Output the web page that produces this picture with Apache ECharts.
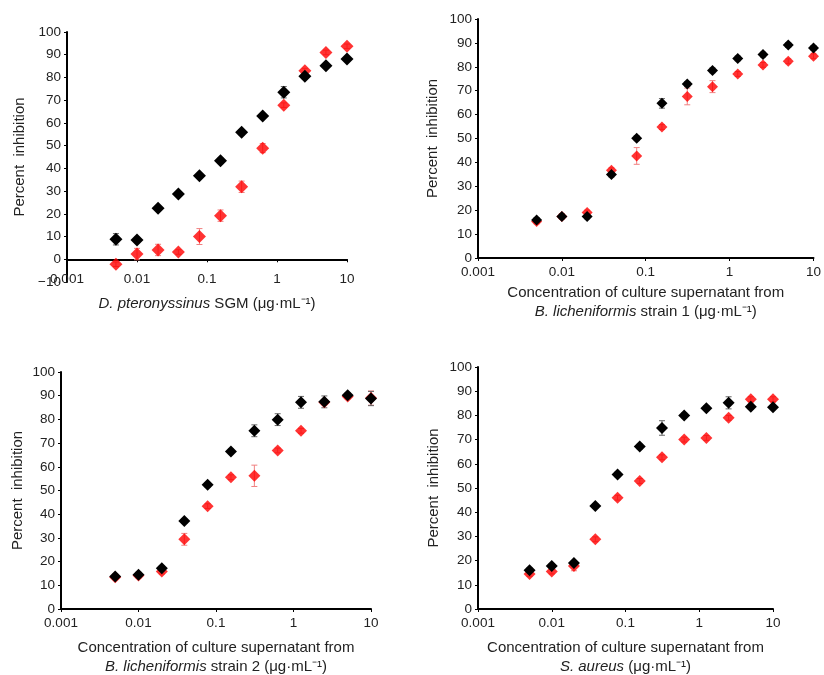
<!DOCTYPE html>
<html>
<head>
<meta charset="utf-8">
<script src="https://cdn.jsdelivr.net/npm/echarts@6/dist/echarts.min.js"></script>
<style>
  html, body { margin: 0; padding: 0; background: #fff; }
  #chart { width: 824px; height: 675px; }
</style>
</head>
<body>
<div id="chart"></div>
<script>
// concentrations (µg/mL), same for every panel
const conc = [0.005, 0.01, 0.02, 0.039, 0.078, 0.156, 0.3125, 0.625, 1.25, 2.5, 5, 10]

// panel A - D. pteronyssinus SGM
const aBlack = [8.8, 8.5, 22.4, 28.7, 36.7, 43.3, 55.9, 63.0, 73.5, 80.5, 85.2, 88.1]
const aBlackErr = [2.5, 1.2, 1, 1, 1, 1.2, 1.2, 1, 2.5, 1.2, 1, 1]
const aRed = [-2.2, 2.3, 4.1, 3.2, 10.0, 19.2, 31.9, 48.9, 67.8, 83.0, 91.0, 93.7]
const aRedErr = [1, 2.5, 2.5, 1, 3.5, 2.5, 2.5, 2, 1, 1, 1, 1]

// panel B - B. licheniformis strain 1
const bBlack = [15.9, 17.4, 17.4, 34.9, 50.1, 64.7, 72.8, 78.5, 83.5, 85.1, 89.1, 87.9]
const bBlackErr = [1, 1, 1, 1, 1, 2, 1, 1, 1, 1, 1, 1]
const bRed = [15.3, 17.4, 19.0, 36.7, 42.7, 54.8, 67.6, 71.7, 77.0, 80.8, 82.3, 84.4]
const bRedErr = [1, 1, 1, 1, 3.5, 1, 3.5, 2.5, 1, 1, 1, 1]

// panel C - B. licheniformis strain 2
const cBlack = [13.7, 14.5, 17.2, 37.1, 52.4, 66.5, 75.2, 79.9, 87.2, 87.4, 90.2, 88.8]
const cBlackErr = [1, 1, 1, 1, 1, 1, 2.5, 2.5, 2.5, 2.5, 1, 3]
const cRed = [13.4, 14.1, 15.8, 29.4, 43.4, 55.6, 56.2, 66.9, 75.2, 87.2, 89.7, 89.0]
const cRedErr = [1, 1, 1, 2.5, 1, 1, 4.5, 1, 1, 1, 1, 3]

// panel D - S. aureus
const dBlack = [16.0, 17.8, 19.0, 42.6, 55.6, 67.1, 74.8, 80.0, 83.0, 85.2, 83.6, 83.4]
const dBlackErr = [1, 1, 1, 1, 1, 1, 3, 1, 1, 2.5, 1, 1]
const dRed = [14.5, 15.5, 17.8, 28.8, 46.0, 52.9, 62.7, 70.0, 70.7, 79.0, 86.7, 86.7]
const dRedErr = [1, 1, 2, 1, 1, 1, 1, 1, 1, 1, 1, 1]

const xTicks = ['0.001', '0.01', '0.1', '1', '10']

const FONT = '"Liberation Sans", Arial, sans-serif'
const TXT = '#222'

// panel 1: x axis sits at y = 0 but labels are placed from the grid bottom,
// so its label margin / name gap are pulled up by the -10..0 strip (23px)
const panels = [
  { grid: { left: 67, top: 32, width: 280, height: 250 }, yMin: -10, black: aBlack, blackErr: aBlackErr, red: aRed, redErr: aRedErr,
    xName: '{i|D. pteronyssinus}{t| SGM (μg·mL⁻¹)}', xGap: 12, labelMargin: -10, yGap: 40, size: 13 },
  { grid: { left: 478, top: 19, width: 339, height: 239 }, yMin: 0, black: bBlack, blackErr: bBlackErr, red: bRed, redErr: bRedErr,
    xName: '{t|Concentration of culture supernatant from}\n{i|B. licheniformis}{t| strain 1 (μg·mL⁻¹)}', xGap: 25, labelMargin: 7, yGap: 38, size: 11 },
  { grid: { left: 61, top: 372, width: 310, height: 239 }, yMin: 0, black: cBlack, blackErr: cBlackErr, red: cRed, redErr: cRedErr,
    xName: '{t|Concentration of culture supernatant from}\n{i|B. licheniformis}{t| strain 2 (μg·mL⁻¹)}', xGap: 29, labelMargin: 7, yGap: 36, size: 12 },
  { grid: { left: 478, top: 367, width: 295, height: 243 }, yMin: 0, black: dBlack, blackErr: dBlackErr, red: dRed, redErr: dRedErr,
    xName: '{t|Concentration of culture supernatant from}\n{i|S. aureus}{t| (μg·mL⁻¹)}', xGap: 29, labelMargin: 7, yGap: 37, size: 12 }
]

function errorBars(vals, errs, color, axisIdx) {
  return {
    type: 'custom',
    xAxisIndex: axisIdx,
    yAxisIndex: axisIdx,
    z: 1,
    silent: true,
    data: conc.map((c, i) => [c, vals[i], errs[i]]),
    renderItem: function (params, api) {
      const x = api.value(0), y = api.value(1), e = api.value(2)
      const top = api.coord([x, y + e])
      const bot = api.coord([x, y - e])
      const style = { stroke: color, lineWidth: 1 }
      return {
        type: 'group',
        children: [
          { type: 'line', shape: { x1: top[0], y1: top[1], x2: bot[0], y2: bot[1] }, style },
          { type: 'line', shape: { x1: top[0] - 3, y1: top[1], x2: top[0] + 3, y2: top[1] }, style },
          { type: 'line', shape: { x1: bot[0] - 3, y1: bot[1], x2: bot[0] + 3, y2: bot[1] }, style }
        ]
      }
    }
  }
}

const grids = [], xAxes = [], yAxes = [], series = []
panels.forEach((p, k) => {
  grids.push(p.grid)
  xAxes.push({
    type: 'log', logBase: 10, min: 0.001, max: 10, gridIndex: k,
    axisLine: { onZero: true, lineStyle: { color: '#000', width: 2 } },
    axisTick: { show: true, length: 3, lineStyle: { color: '#000' } },
    minorTick: { show: false },
    splitLine: { show: false },
    axisLabel: {
      fontSize: 13.5, fontFamily: FONT, color: TXT, margin: p.labelMargin,
      formatter: v => {
        const idx = Math.round(Math.log10(v)) + 3
        return xTicks[idx] !== undefined ? xTicks[idx] : ''
      }
    },
    name: p.xName,
    nameLocation: 'middle',
    nameGap: p.xGap,
    nameTextStyle: {
      rich: {
        t: { fontSize: 15, fontFamily: FONT, color: TXT, lineHeight: 19 },
        i: { fontSize: 15, fontFamily: FONT, color: TXT, lineHeight: 19, fontStyle: 'italic' }
      }
    }
  })
  yAxes.push({
    type: 'value', min: p.yMin, max: 100, interval: 10, gridIndex: k,
    axisLine: { show: true, onZero: false, lineStyle: { color: '#000', width: 2 } },
    axisTick: { show: true, length: 3, lineStyle: { color: '#000' } },
    splitLine: { show: false },
    axisLabel: {
      fontSize: 13.5, fontFamily: FONT, color: TXT, margin: 6,
      formatter: v => v < 0 ? '\u2212' + Math.abs(v) : String(v)
    },
    name: 'Percent  inhibition',
    nameLocation: 'middle',
    nameGap: p.yGap,
    nameTextStyle: { fontSize: 15, fontFamily: FONT, color: TXT }
  })
  series.push(errorBars(p.red, p.redErr, '#f08080', k))
  series.push(errorBars(p.black, p.blackErr, '#666', k))
  series.push({
    type: 'scatter', xAxisIndex: k, yAxisIndex: k, z: 2,
    symbol: 'diamond', symbolSize: p.size,
    itemStyle: { color: '#ff0000' },
    data: conc.map((c, i) => [c, p.red[i]])
  })
  series.push({
    type: 'scatter', xAxisIndex: k, yAxisIndex: k, z: 3,
    symbol: 'diamond', symbolSize: p.size,
    itemStyle: { color: '#000', opacity: 1 },
    emphasis: { disabled: true },
    data: conc.map((c, i) => [c, p.black[i]])
  })
})

const chart = echarts.init(document.getElementById('chart'))
chart.setOption({
  animation: false,
  backgroundColor: '#fff',
  grid: grids,
  xAxis: xAxes,
  yAxis: yAxes,
  series: series
})
window.addEventListener('resize', () => chart.resize())
</script>
</body>
</html>
